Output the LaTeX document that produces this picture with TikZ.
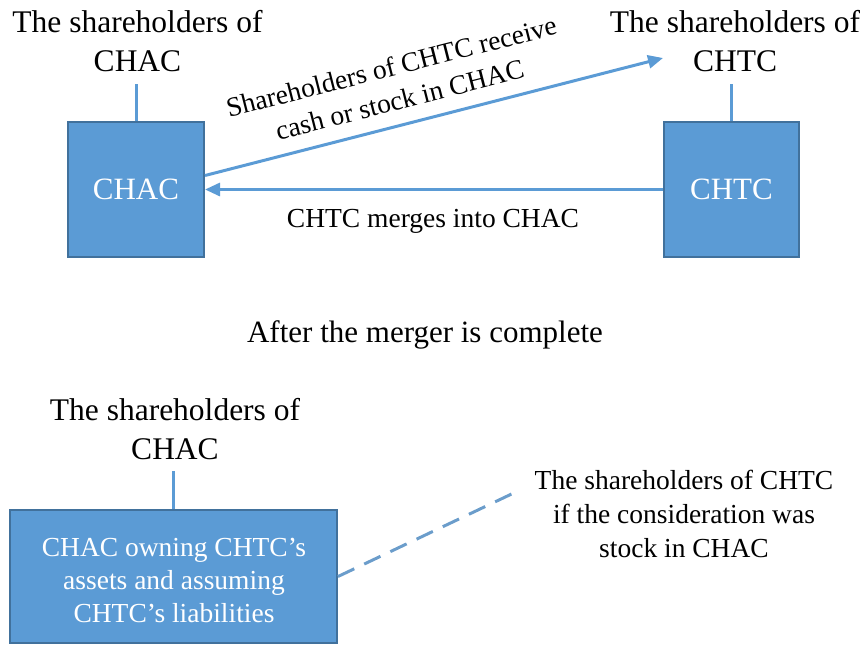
\documentclass[tikz,border=0pt]{standalone}
\usepackage{fontspec}
\setmainfont{Liberation Serif}
\usetikzlibrary{arrows.meta,calc}

\definecolor{boxblue}{HTML}{5B9BD5}
\definecolor{boxedge}{HTML}{41719C}
\definecolor{lineblue}{HTML}{5B9BD5}
\definecolor{dashblue}{HTML}{6B9DCB}

\tikzset{
  company/.style={draw=boxedge, line width=2pt, fill=boxblue, inner sep=0pt},
  boxlabel/.style={text=white, font=\fontsize{31}{36}\selectfont, inner sep=0pt},
  mergedlabel/.style={text=white, font=\fontsize{27.5}{33}\selectfont, align=center, inner sep=0pt},
  holders/.style={font=\fontsize{31.5}{39}\selectfont, align=center, inner sep=0pt, outer ysep=11.5pt},
  note/.style={font=\fontsize{27.5}{34}\selectfont, align=center, inner sep=0pt},
  heading/.style={font=\fontsize{31}{36}\selectfont, inner sep=0pt},
  link/.style={draw=lineblue, line width=3pt},
  flow/.style={link, -{Triangle[length=15pt,width=13pt]}},
  optional/.style={draw=dashblue, line width=3pt, dash pattern=on 18pt off 11pt}
}

\begin{document}
\begin{tikzpicture}[x=1pt, y=-1pt]
  \useasboundingbox (0,0) rectangle (864,646);

  % before the merger
  \node[company, minimum width=136pt, minimum height=135pt] (chac) at (136,189.5) {};
  \node[boxlabel] (chactxt) at (chac.center) {CHAC};
  \node[company, minimum width=135pt, minimum height=135pt] (chtc) at (731.5,189.5) {};
  \node[boxlabel] (chtctxt) at (chtc.center) {CHTC};

  \node[holders] (holdA) at (137.5,41.5) {The shareholders of\\CHAC};
  \node[holders] (holdT) at (735,41.5) {The shareholders of\\CHTC};

  \draw[link] (chac.north) -- (chac.north |- holdA.south);
  \draw[link] (chtc.north) -- (chtc.north |- holdT.south);

  \coordinate (paid) at (663,58);
  \draw[flow] ($(chac.east)+(0,-14)$) -- (paid);
  \node[note, rotate=14.3] (considtxt) at (395.5,83)
    {Shareholders of CHTC receive\\cash or stock in CHAC};

  \draw[flow] (chtc.west) -- (chac.east);
  \node[note, anchor=base] (mergetxt) at (433,227) {CHTC merges into CHAC};

  % after the merger
  \node[heading, anchor=base] (after) at (425,342) {After the merger is complete};

  \node[holders] (holdB) at (175,429) {The shareholders of\\CHAC};
  \node[company, minimum width=327pt, minimum height=133pt] (merged) at (173.5,576.5) {};
  \node[mergedlabel] (mergedtxt) at (174,580.5)
    {CHAC owning CHTC’s\\assets and assuming\\CHTC’s liabilities};
  \draw[link] (merged.north) -- (merged.north |- holdB.south);

  \node[note] (holdStock) at (684,514)
    {The shareholders of CHTC\\if the consideration was\\stock in CHAC};
  \coordinate (stockend) at (520,490);
  \draw[optional] (merged.east) -- (stockend);
\end{tikzpicture}
\end{document}
